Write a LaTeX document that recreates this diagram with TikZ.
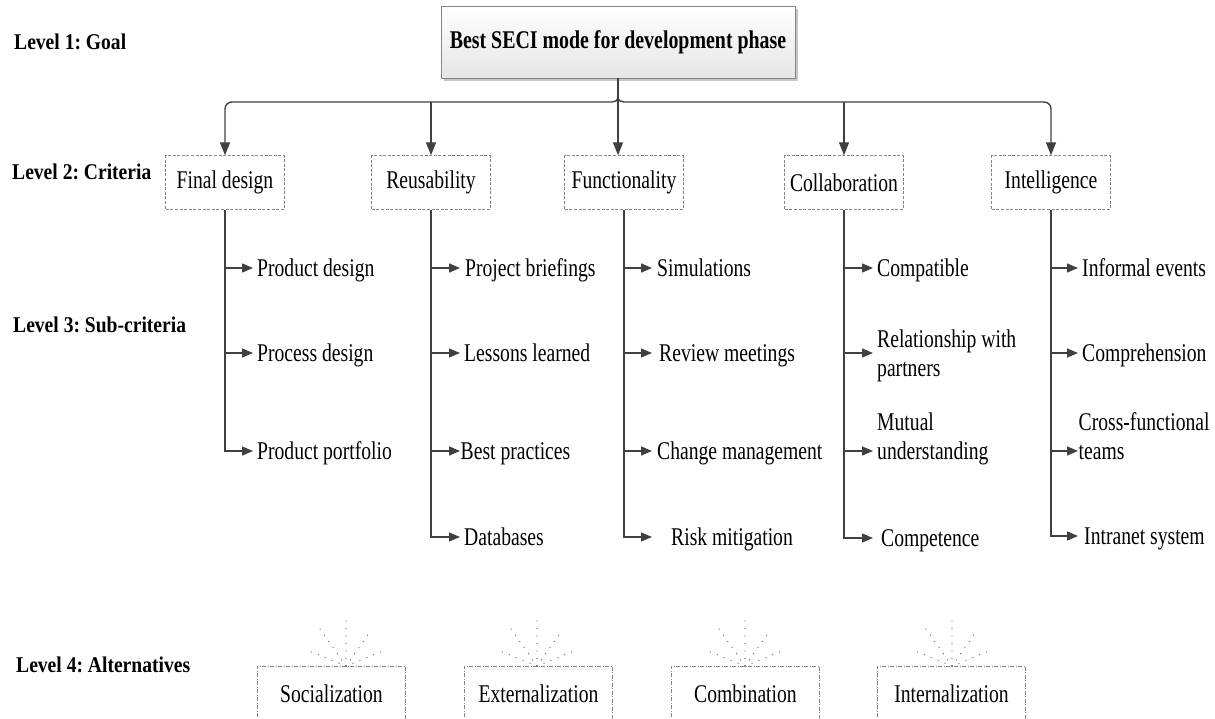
\documentclass[tikz,border=0pt]{standalone}
\usepackage{fontspec}
\setmainfont{Liberation Serif}
\newfontfamily\itemfont{Liberation Serif}[FakeStretch=0.77]
\newfontfamily\goalfont{Liberation Serif}[FakeStretch=0.78]
\newfontfamily\levelfont{Liberation Serif}[FakeStretch=0.87]
\usetikzlibrary{arrows.meta,calc,shadings}
\definecolor{linec}{HTML}{404040}
\definecolor{boxc}{HTML}{858585}
\definecolor{dotc}{HTML}{5a5a5a}
\begin{document}
\frenchspacing
\begin{tikzpicture}[x=1pt,y=-1pt,
  conn/.style={draw=linec, line width=1.4pt},
  arrbig/.style={conn, -{Triangle[length=13pt,width=10pt]}},
  arrsmall/.style={conn, -{Triangle[length=11pt,width=9pt]}},
  txt/.style={font=\itemfont\fontsize{25.5}{29}\selectfont},
  goalbox/.style={draw=boxc, line width=0.9pt, top color=white, bottom color=gray!20,
    minimum width=354pt, minimum height=72pt, inner sep=0pt,
    font=\goalfont\bfseries\fontsize{25.5}{30}\selectfont},
  crit/.style={txt, draw=boxc, line width=0.9pt, dash pattern=on 3pt off 1.6pt,
    minimum width=118.5pt, minimum height=53.5pt, inner sep=0pt},
  alt/.style={txt, draw=boxc, line width=0.9pt, dash pattern=on 4pt off 1.5pt on 1pt off 1.5pt,
    minimum width=148.5pt, minimum height=56pt, inner sep=0pt},
  sub/.style={txt, anchor=west, inner ysep=0pt, text height=21pt, text depth=4pt, align=left},
  level/.style={font=\levelfont\bfseries\fontsize{22.5}{26}\selectfont\frenchspacing, anchor=west, inner sep=0pt},
  fan/.style={draw=dotc, line width=1.3pt, line cap=round, dash pattern=on 0pt off 7.5pt},
]
\useasboundingbox (0,0) rectangle (1215,719);
\clip (0,0) rectangle (1215,719);

% level labels
\node[level] (l1) at (14,42) {Level 1: Goal};
\node[level] (l2) at (12,172) {Level 2: Criteria};
\node[level] (l3) at (13,325) {Level 3: Sub-criteria};
\node[level] (l4) at (16,665) {Level 4: Alternatives};

% goal with its drop shadow
\fill[gray!45] (444,9) rectangle (798,81);
\node[goalbox] (goal) at (618,42) {Best SECI mode for development phase};

% criteria
\node[crit] (fd)   at (225,182.5)  {Final design};
\node[crit] (reu)  at (431,182.5)  {Reusability};
\node[crit] (func) at (624,182.5)  {Functionality};
\node[crit] (col)  at (844,182.5)  {Collaboration};
\node[crit] (intl) at (1051,182.5) {Intelligence};

% bus from the goal to the criteria
\coordinate (hub) at (618,96);
\coordinate (bus) at (618,102);
\draw[arrbig] (goal.south) -- (goal.south |- func.north);
\draw[arrbig] (hub) .. controls +(0,5) and +(3,0) .. ++(-6,6)
  [rounded corners=7] -- (fd.north |- bus) -- (fd.north);
\draw[arrbig] (hub) .. controls +(0,5) and +(-3,0) .. ++(6,6)
  [rounded corners=7] -- (intl.north |- bus) -- (intl.north);
\draw[arrbig] (reu.north |- bus) -- (reu.north);
\draw[arrbig] (col.north |- bus) -- (col.north);

% sub-criteria: final design
\node[sub, inner xsep=4pt] (fd1) at (253,268) {Product design};
\node[sub, inner xsep=4pt] (fd2) at (253,353) {Process design};
\node[sub, inner xsep=4pt] (fd3) at (253,451) {Product portfolio};
\draw[arrsmall] (fd.south |- fd1.west) -- (fd1.west);
\draw[arrsmall] (fd.south |- fd2.west) -- (fd2.west);
\draw[arrsmall] (fd.south) |- (fd3.west);

% sub-criteria: reusability
\node[sub, inner xsep=5pt]   (re1) at (460,268) {Project briefings};
\node[sub, inner xsep=4pt]   (re2) at (460,353) {Lessons learned};
\node[sub, inner xsep=0.5pt] (re3) at (460,451) {Best practices};
\node[sub, inner xsep=4pt]   (re4) at (460,537) {Databases};
\draw[arrsmall] (reu.south |- re1.west) -- (re1.west);
\draw[arrsmall] (reu.south |- re2.west) -- (re2.west);
\draw[arrsmall] (reu.south |- re3.west) -- (re3.west);
\draw[arrsmall] (reu.south) |- (re4.west);

% sub-criteria: functionality
\node[sub, inner xsep=5pt]  (fu1) at (652,268) {Simulations};
\node[sub, inner xsep=7pt]  (fu2) at (652,353) {Review meetings};
\node[sub, inner xsep=5pt]  (fu3) at (652,451) {Change management};
\node[sub, inner xsep=19pt] (fu4) at (652,537) {Risk mitigation};
\draw[arrsmall] (func.south |- fu1.west) -- (fu1.west);
\draw[arrsmall] (func.south |- fu2.west) -- (fu2.west);
\draw[arrsmall] (func.south |- fu3.west) -- (fu3.west);
\draw[arrsmall] (func.south) |- (fu4.west);

% sub-criteria: collaboration
\node[sub, inner xsep=4pt] (co1) at (873,268) {Compatible};
\coordinate (co2tip) at (873,353);
\node[sub, inner xsep=4pt] (co2) at (873,367.5) {Relationship with\\partners};
\node[sub, inner xsep=4pt] (co3) at (873,451) {Mutual\\understanding};
\node[sub, inner xsep=8pt] (co4) at (873,538) {Competence};
\draw[arrsmall] (col.south |- co1.west) -- (co1.west);
\draw[arrsmall] (col.south |- co2tip) -- (co2tip);
\draw[arrsmall] (col.south |- co3.west) -- (co3.west);
\draw[arrsmall] (col.south) |- (co4.west);

% sub-criteria: intelligence
\node[sub, inner xsep=4pt]   (in1) at (1078,268) {Informal events};
\node[sub, inner xsep=4pt]   (in2) at (1078,353) {Comprehension};
\node[sub, inner xsep=0.5pt] (in3) at (1078,451) {Cross-functional\\teams};
\node[sub, inner xsep=6pt]   (in4) at (1078,536) {Intranet system};
\draw[arrsmall] (intl.south |- in1.west) -- (in1.west);
\draw[arrsmall] (intl.south |- in2.west) -- (in2.west);
\draw[arrsmall] (intl.south |- in3.west) -- (in3.west);
\draw[arrsmall] (intl.south) |- (in4.west);

% alternatives
\node[alt] (soc) at (331.5,694) {Socialization};
\node[alt] (ext) at (538.5,694) {Externalization};
\node[alt] (com) at (745.5,694) {Combination};
\node[alt] (inl) at (951.5,694) {Internalization};

% dotted fans above the alternatives
\coordinate (socf) at (346,666);
\coordinate (extf) at (537,666);
\coordinate (comf) at (745,666);
\coordinate (inlf) at (952,666);
\foreach \apex in {socf,extf,comf,inlf}{
  \foreach \a/\l in {158/43,125/50,90/50,55/42,22/41}
    \draw[fan] (\apex) -- ++(\a:\l pt);
}
\end{tikzpicture}
\end{document}
